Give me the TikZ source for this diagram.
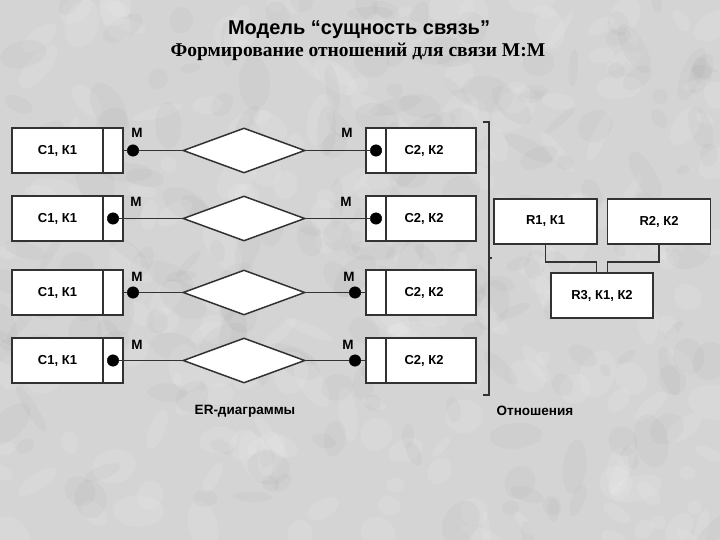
\documentclass[tikz,border=0pt]{standalone}
\usepackage{fontspec}
\setmainfont{Liberation Sans}
\newfontfamily\timesf{Liberation Serif}
\usetikzlibrary{shapes.geometric}
\definecolor{bgc}{RGB}{212,212,212}
\definecolor{linec}{RGB}{50,50,50}
\begin{document}
\begin{tikzpicture}[x=1pt,y=-1pt,
  ent/.style={draw=linec, fill=white, line width=1.5pt, minimum height=45pt, inner sep=0pt, font=\fontsize{13}{15}\selectfont\bfseries},
  comp/.style={draw=linec, fill=white, line width=1.5pt, minimum height=45pt, minimum width=20pt, inner sep=0pt},
  rel/.style={draw=linec, fill=white, line width=1.5pt, diamond, minimum width=122pt, minimum height=45pt, inner sep=0pt},
  dotm/.style={circle, fill=black, draw=black, minimum size=11.5pt, inner sep=0pt},
  conn/.style={draw=linec, line width=1.5pt},
  mlab/.style={font=\fontsize{13.5}{15}\selectfont\bfseries, inner sep=0pt},
  rbox/.style={draw=linec, fill=white, line width=1.5pt, minimum width=103pt, minimum height=45pt, inner sep=0pt, font=\fontsize{13}{15}\selectfont\bfseries},
  captxt/.style={font=\fontsize{13.5}{15}\selectfont\bfseries, inner sep=0pt}
]
\useasboundingbox (0,0) rectangle (720,540);
\fill[bgc] (0,0) rectangle (720,540);
% marble-like texture
\pgfmathsetseed{11}
\foreach \i in {1,...,420}{
  \pgfmathsetmacro{\px}{rnd*720}
  \pgfmathsetmacro{\py}{rnd*540}
  \pgfmathsetmacro{\rx}{6+rnd*22}
  \pgfmathsetmacro{\ry}{4+rnd*14}
  \pgfmathsetmacro{\ang}{rnd*180}
  \pgfmathsetmacro{\wh}{rnd}
  \ifdim\wh pt>0.5pt
    \fill[white, opacity=0.10, rotate around={\ang:(\px,\py)}] (\px,\py) ellipse [x radius=\rx, y radius=\ry];
  \else
    \fill[black!50, opacity=0.06, rotate around={\ang:(\px,\py)}] (\px,\py) ellipse [x radius=\rx, y radius=\ry];
  \fi
}

% titles
\node[font=\fontsize{20}{23}\selectfont\bfseries] (t1) at (359,30) {Модель “сущность связь”};
\node[font=\timesf\fontsize{19.5}{22}\selectfont\bfseries] (t2) at (358,52) {Формирование отношений для связи М:М};

% rows
\foreach \r/\y in {1/150.5, 2/218.5, 3/292.5, 4/360.5}{
  \node[ent, minimum width=91pt] (l\r) at (57.5,\y) {С1, К1};
  \node[comp] (lc\r) at (113,\y) {};
  \node[rel] (d\r) at (244,\y) {};
  \node[comp] (rc\r) at (376,\y) {};
  \node[ent, minimum width=90pt, label={[captxt, font=\fontsize{13}{15}\selectfont\bfseries, xshift=-7pt]center:С2, К2}] (r\r) at (431,\y) {};
}
% left dots
\node[dotm] (ld1) at (133,150.5) {};
\node[dotm] (ld2) at (113,218.5) {};
\node[dotm] (ld3) at (133,292.5) {};
\node[dotm] (ld4) at (113,360.5) {};
% right dots
\node[dotm] (rd1) at (376,150.5) {};
\node[dotm] (rd2) at (376,218.5) {};
\node[dotm] (rd3) at (355,292.5) {};
\node[dotm] (rd4) at (355,360.5) {};

\draw[conn] (lc1.east) -- (ld1) -- (d1.west);
\draw[conn] (ld2) -- (d2.west);
\draw[conn] (lc3.east) -- (ld3) -- (d3.west);
\draw[conn] (ld4) -- (d4.west);
\draw[conn] (d1.east) -- (rd1);
\draw[conn] (d2.east) -- (rd2);
\draw[conn] (d3.east) -- (rd3) -- (rc3.west);
\draw[conn] (d4.east) -- (rd4) -- (rc4.west);

% M labels
\node[mlab] (m1l) at (137,133) {М};
\node[mlab] (m2l) at (136,202) {М};
\node[mlab] (m3l) at (137,277) {М};
\node[mlab] (m4l) at (137,345) {М};
\node[mlab] (m1r) at (347,133) {М};
\node[mlab] (m2r) at (346,202) {М};
\node[mlab] (m3r) at (349,277) {М};
\node[mlab] (m4r) at (348,345) {М};

% bracket
\coordinate (bt) at (489,122);
\coordinate (bb) at (489,395);
\coordinate (bm) at (489,258);
\draw[conn] ([xshift=-6pt]bt) -- (bt) -- (bb) -- ([xshift=-6pt]bb);
\draw[conn] (bm) -- ([xshift=3pt]bm);

% relations
\node[rbox] (R1) at (545.5,221.5) {R1, К1};
\node[rbox] (R2) at (659,221.5) {R2, К2};
\node[rbox, minimum width=102pt] (R3) at (602,295.5) {R3, К1, К2};
\draw[conn] (R1.south) -- ++(0,17) -| ([xshift=-5.5pt]R3.north);
\draw[conn] (R2.south) -- ++(0,17) -| ([xshift=5.5pt]R3.north);

% captions
\node[captxt] (c1) at (245,411) {ER-диаграммы};
\node[captxt] (c2) at (535,411) {Отношения};
\end{tikzpicture}
\end{document}
